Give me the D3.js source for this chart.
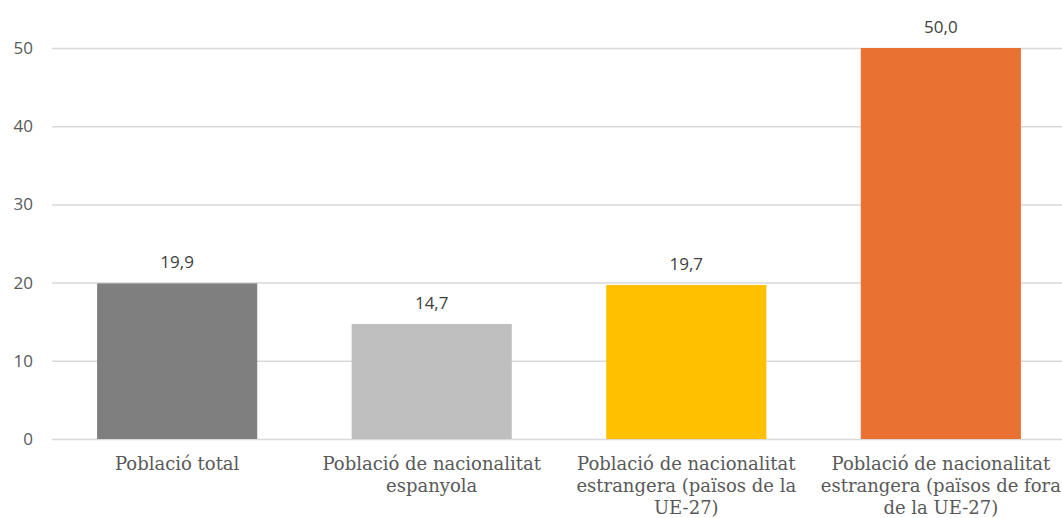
<!DOCTYPE html>
<html>
<head>
<meta charset="utf-8">
<script src="https://cdn.jsdelivr.net/npm/d3@7"></script>
<style>
  body { margin: 0; background: #fff; }
  svg { display: block; }
</style>
</head>
<body>
<div id="chart"></div>
<script>
// data
var categories = [
    ["Població total"],
    ["Població de nacionalitat", "espanyola"],
    ["Població de nacionalitat", "estrangera (països de la", "UE-27)"],
    ["Població de nacionalitat", "estrangera (països de fora", "de la UE-27)"]
];
var values = [19.9, 14.7, 19.7, 50.0];
var barColors = ["#7f7f7f", "#bfbfbf", "#ffc000", "#e97132"];
var yTicks = [0, 10, 20, 30, 40, 50];

const width = 1062, height = 518;
const svg = d3.select("#chart").append("svg")
    .attr("width", width)
    .attr("height", height);

const x = d3.scaleBand()
    .domain(d3.range(categories.length))
    .range([50, 1068])
    .paddingInner(0.371)
    .paddingOuter(0.185);

const y = d3.scaleLinear()
    .domain([0, 50])
    .range([439, 48]);

// gridlines + tick labels
const yAxis = d3.axisLeft(y)
    .tickValues(yTicks)
    .tickSize(-(1062 - 52))
    .tickPadding(19)
    .tickFormat(d3.format("d"));

const gy = svg.append("g")
    .attr("transform", "translate(52,0)")
    .call(yAxis);
gy.select(".domain").remove();
gy.selectAll(".tick line")
    .attr("stroke", "#d9d9d9")
    .attr("stroke-width", 1.5);
gy.selectAll(".tick text")
    .attr("fill", "#595959")
    .style("font-family", "'Open Sans', sans-serif")
    .style("font-size", "17px");

// bars
svg.selectAll("rect.bar")
    .data(values)
    .enter().append("rect")
    .attr("class", "bar")
    .attr("x", (d, i) => x(i))
    .attr("width", x.bandwidth())
    .attr("y", d => y(d))
    .attr("height", d => y(0) - y(d))
    .attr("fill", (d, i) => barColors[i]);

// value labels
const fmt = d => d.toFixed(1).replace(".", ",");
svg.selectAll("text.val")
    .data(values)
    .enter().append("text")
    .attr("class", "val")
    .attr("x", (d, i) => x(i) + x.bandwidth() / 2)
    .attr("y", d => y(d) - 15)
    .attr("text-anchor", "middle")
    .attr("fill", "#404040")
    .style("font-family", "'Open Sans', sans-serif")
    .style("font-size", "17px");

svg.selectAll("text.val").text(fmt);

// category labels
const cat = svg.selectAll("text.cat")
    .data(categories)
    .enter().append("text")
    .attr("class", "cat")
    .attr("text-anchor", "middle")
    .attr("fill", "#595959")
    .style("font-family", "'DejaVu Serif', serif")
    .style("font-size", "18px");

cat.each(function (lines, i) {
    const t = d3.select(this);
    lines.forEach((line, j) => {
        t.append("tspan")
            .attr("x", x(i) + x.bandwidth() / 2)
            .attr("y", 470 + j * 22)
            .text(line);
    });
});
</script>
</body>
</html>
